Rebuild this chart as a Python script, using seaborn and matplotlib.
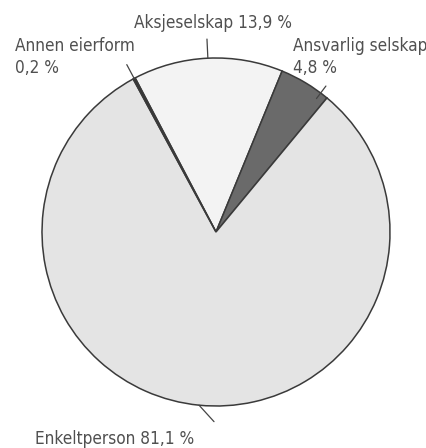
import numpy as np
import matplotlib
matplotlib.use("Agg")
import matplotlib.pyplot as plt
import seaborn as sns

# andeler av foretak etter eierform (prosent)
eierform = ["Aksjeselskap", "Ansvarlig selskap", "Enkeltperson", "Annen eierform"]
andel = [13.9, 4.8, 81.1, 0.2]
tekst = ["Aksjeselskap 13,9 %", "Ansvarlig selskap\n4,8 %", "Enkeltperson 81,1 %", "Annen eierform\n0,2 %"]

sns.set_theme(style="white")
plt.rcParams["font.family"] = ["DejaVu Sans"]
plt.rcParams["font.stretch"] = "condensed"

farger = ["#f3f3f3", "#6a6a6a", "#e4e4e4", "#333333"]

fig = plt.figure(figsize=(4.27, 4.48), dpi=100)
ax = fig.add_axes([0, 0, 1, 1])

senter = (216, 216)
radius = 174
start = 117.7
wedges, _ = ax.pie(andel, colors=farger, startangle=start, counterclock=False,
                   center=senter, radius=radius,
                   wedgeprops=dict(edgecolor="#3a3a3a", linewidth=1.1))

ax.set_xlim(0, 427)
ax.set_ylim(0, 448)
ax.set_aspect("equal")
ax.axis("off")

# strek fra kakestykket til teksten: (indre r, ytre r, vinkelforskyvning, skjevhet)
vinkler = [np.deg2rad((w.theta1 + w.theta2) / 2) for w in wedges]
strek = {
    "Aksjeselskap": (1.0, 1.11, 0.0, 0.0),
    "Ansvarlig selskap": (0.96, 1.05, -6.0, 0.0),
    "Enkeltperson": (1.0, 1.09, 0.0, 5.0),
    "Annen eierform": (1.0, 1.09, 0.0, 0.0),
}
for navn, v in zip(eierform, vinkler):
    r0, r1, fors, skj = strek[navn]
    v1 = v + np.deg2rad(fors)
    v2 = v1 + np.deg2rad(skj)
    xs = [senter[0] + r0 * radius * np.cos(v1), senter[0] + r1 * radius * np.cos(v2)]
    ys = [senter[1] + r0 * radius * np.sin(v1), senter[1] + r1 * radius * np.sin(v2)]
    ax.plot(xs, ys, color="#444444", lw=0.9)

tfarge = "#505050"
fs = 12.3
ax.text(213, 420, tekst[0], ha="center", va="baseline", fontsize=fs, color=tfarge)
ax.text(293, 411, tekst[1], ha="left", va="top", fontsize=fs, color=tfarge, linespacing=1.3)
ax.text(35, 4, tekst[2], ha="left", va="baseline", fontsize=fs, color=tfarge)
ax.text(15, 411, tekst[3], ha="left", va="top", fontsize=fs, color=tfarge, linespacing=1.3)

fig.savefig("out.png", dpi=100, facecolor="white")
